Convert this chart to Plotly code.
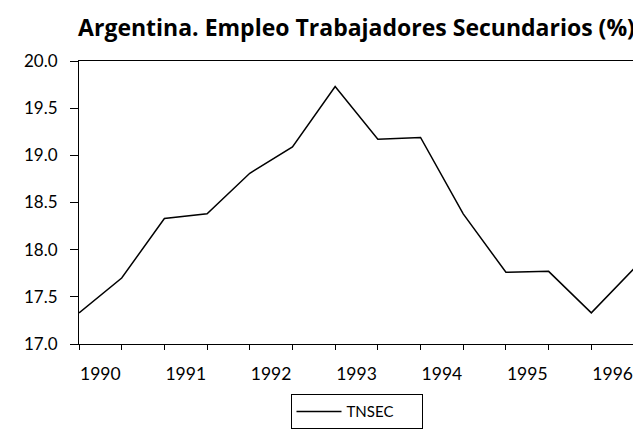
import plotly.graph_objects as go

years = ["1990", "1991", "1992", "1993", "1994", "1995", "1996"]
periods = [f"{y}S{h}" for y in years for h in (1, 2)]
tnsec = [17.33, 17.70, 18.33, 18.38, 18.81, 19.09, 19.73,
         19.17, 19.19, 18.38, 17.76, 17.77, 17.33, 17.80]
y_ticks = [17.0, 17.5, 18.0, 18.5, 19.0, 19.5, 20.0]

xpos = list(range(len(periods)))
label_pos = [2 * i + 0.5 for i in range(len(years))]

fig = go.Figure()
fig.add_trace(go.Scatter(x=xpos, y=tnsec, mode="lines", name="TNSEC",
                         line=dict(color="black", width=1.5)))

fig.update_layout(
    width=641, height=433,
    paper_bgcolor="white", plot_bgcolor="white",
    margin=dict(l=71, r=15, t=53, b=83),
    font=dict(family="Lato", color="black", size=16),
    title=dict(text="<b>Argentina. Empleo Trabajadores Secundarios (%)</b>",
               font=dict(family="Open Sans", size=23, color="black"),
               x=0.5, xref="paper", xanchor="center",
               y=1 - 20 / 433, yref="container", yanchor="middle"),
    showlegend=True,
    legend=dict(orientation="h", x=0.5, xanchor="center", xref="paper",
                y=-0.178, yanchor="top", bordercolor="black", borderwidth=1,
                font=dict(size=15), bgcolor="white",
                itemwidth=45, entrywidth=70),
)
fig.update_xaxes(range=[0, len(periods) - 1], showgrid=False, zeroline=False,
                 showline=True, linecolor="black", linewidth=1.2, mirror=True,
                 tickmode="array", tickvals=label_pos, ticktext=years,
                 ticks="", ticklabelstandoff=14,
                 tickfont=dict(size=17.5),
                 minor=dict(ticks="outside", ticklen=5, tickcolor="black",
                            tickmode="array", tickvals=xpos, showgrid=False))
fig.update_yaxes(range=[17, 20], showgrid=False, zeroline=False,
                 showline=True, linecolor="black", linewidth=1.2, mirror=True,
                 tickmode="array", tickvals=y_ticks, tickformat=".1f",
                 ticks="outside", ticklen=8, tickcolor="black",
                 ticklabelstandoff=9, tickfont=dict(size=17))

fig.write_html("out.html")
